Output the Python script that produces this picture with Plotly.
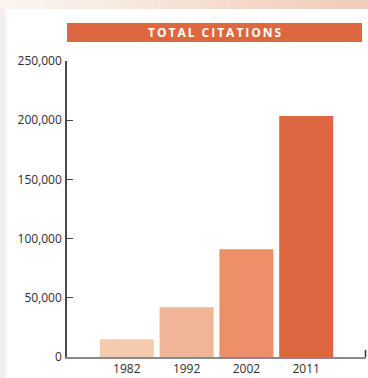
import plotly.graph_objects as go

# Total citations by year
years = ["1982", "1992", "2002", "2011"]
citations = [15000, 42000, 91000, 203500]
bar_colors = ["#F5CBB0", "#EFB597", "#EB9068", "#DD6740"]

y_tickvals = [0, 50000, 100000, 150000, 200000, 250000]
y_ticktext = ["0", "50,000", "100,000", "150,000", "200,000", "250,000"]

title_text = "TOTAL CITATIONS"

W, H = 368, 378
L, R, T, B = 67, 2, 61, 21
pw, ph = W - L - R, H - T - B


def px_x(x):
    return (x - L) / pw


def px_y(y):
    return (H - B - y) / ph


fig = go.Figure(
    go.Bar(
        x=years,
        y=citations,
        marker=dict(color=bar_colors, line=dict(width=0)),
        hoverinfo="x+y",
    )
)

shapes = []
# peach band across the top, shading darker to the right
band = [(0, "#FAF3EE"), (0.25, "#F8ECE4"), (0.5, "#F5E1D5"), (0.75, "#F2D6C5"), (1.0, "#F0CDB8")]
nseg = 24
for i in range(nseg):
    t = i / (nseg - 1)
    for j in range(len(band) - 1):
        if band[j][0] <= t <= band[j + 1][0]:
            a, ca = band[j]
            b, cb = band[j + 1]
            f = (t - a) / (b - a) if b > a else 0
            c1 = [int(ca[k:k + 2], 16) for k in (1, 3, 5)]
            c2 = [int(cb[k:k + 2], 16) for k in (1, 3, 5)]
            col = "rgb(%d,%d,%d)" % tuple(round(c1[k] + (c2[k] - c1[k]) * f) for k in range(3))
            break
    x0 = W * i / nseg
    x1 = W * (i + 1) / nseg + 0.5
    shapes.append(dict(type="rect", xref="paper", yref="paper",
                       x0=px_x(x0), x1=px_x(x1), y0=px_y(9), y1=px_y(0),
                       fillcolor=col, line=dict(width=0), layer="below"))
# soft strip along the left edge
shapes.append(dict(type="rect", xref="paper", yref="paper",
                   x0=px_x(0), x1=px_x(7), y0=px_y(H), y1=px_y(9),
                   fillcolor="#F4EFEE", line=dict(width=0), layer="below"))
shapes.append(dict(type="rect", xref="paper", yref="paper",
                   x0=px_x(5), x1=px_x(7), y0=px_y(H), y1=px_y(9),
                   fillcolor="#F8F5F4", line=dict(width=0), layer="below"))
# title banner
shapes.append(dict(type="rect", xref="paper", yref="paper",
                   x0=px_x(67), x1=px_x(362), y0=px_y(42), y1=px_y(23),
                   fillcolor="#DD6740", line=dict(width=0)))
# closing tick at the right end of the category axis
shapes.append(dict(type="line", xref="paper", yref="paper",
                   x0=px_x(365.5), x1=px_x(365.5), y0=px_y(357), y1=px_y(350),
                   line=dict(color="#333333", width=1.5)))

spaced_title = "\u2009".join(list(title_text))

fig.update_layout(
    width=W, height=H,
    margin=dict(l=L, r=R, t=T, b=B, pad=0),
    paper_bgcolor="white",
    plot_bgcolor="white",
    showlegend=False,
    bargap=0.097,
    shapes=shapes,
    font=dict(family="Open Sans, sans-serif", color="#2E2E2E"),
    annotations=[dict(
        text="<b>" + spaced_title + "</b>",
        xref="paper", yref="paper",
        x=px_x(214.5), y=px_y(32.5),
        xanchor="center", yanchor="middle",
        showarrow=False,
        font=dict(family="Open Sans, sans-serif", size=12, color="white"),
    )],
    xaxis=dict(
        type="category",
        range=[-1, 4],
        showline=True, linecolor="#8A8A8A", linewidth=2,
        ticks="", showgrid=False, zeroline=False,
        tickfont=dict(size=12, color="#2E2E2E"),
        ticklabelstandoff=0,
    ),
    yaxis=dict(
        range=[0, 250000],
        tickvals=y_tickvals, ticktext=y_ticktext,
        ticks="inside", ticklen=6, tickwidth=1.2, tickcolor="#444444",
        showline=True, linecolor="#4A4A4A", linewidth=1.5,
        showgrid=False, zeroline=False,
        tickfont=dict(size=12, color="#2E2E2E"),
        ticklabelstandoff=1,
    ),
)

fig.write_html("out.html")
